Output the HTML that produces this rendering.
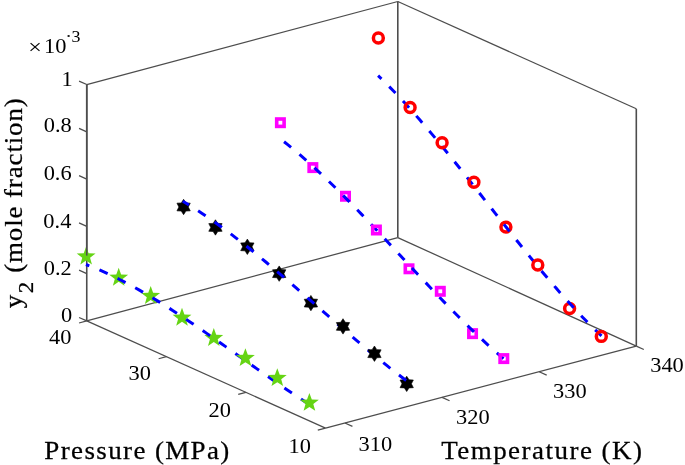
<!DOCTYPE html>
<html><head><meta charset="utf-8"><style>
html,body{margin:0;padding:0;background:#fff;overflow:hidden;}
svg{display:block;will-change:transform;}
</style></head><body>
<svg width="685" height="465" viewBox="0 0 685 465">
<rect width="685" height="465" fill="#fff"/>
<g stroke-linecap="butt">
<line x1="86.75" y1="84.55" x2="86.75" y2="320.90" stroke="#4d4d4d" stroke-width="1.6" />
<line x1="397.80" y1="1.50" x2="397.80" y2="237.60" stroke="#4d4d4d" stroke-width="1.6" />
<line x1="636.30" y1="108.80" x2="636.30" y2="346.10" stroke="#4d4d4d" stroke-width="1.6" />
<line x1="86.75" y1="84.55" x2="397.80" y2="1.50" stroke="#4d4d4d" stroke-width="1.25" />
<line x1="397.80" y1="1.50" x2="636.30" y2="108.80" stroke="#4d4d4d" stroke-width="1.25" />
<line x1="86.75" y1="320.90" x2="397.80" y2="237.60" stroke="#4d4d4d" stroke-width="1.25" />
<line x1="397.80" y1="237.60" x2="636.30" y2="346.10" stroke="#4d4d4d" stroke-width="1.25" />
<line x1="86.75" y1="320.90" x2="325.50" y2="428.10" stroke="#4d4d4d" stroke-width="1.25" />
<line x1="325.50" y1="428.10" x2="636.30" y2="346.10" stroke="#4d4d4d" stroke-width="1.25" />
<line x1="86.75" y1="320.90" x2="79.05" y2="317.45" stroke="#4d4d4d" stroke-width="1.25" />
<line x1="86.75" y1="273.63" x2="79.05" y2="270.18" stroke="#4d4d4d" stroke-width="1.25" />
<line x1="86.75" y1="226.36" x2="79.05" y2="222.91" stroke="#4d4d4d" stroke-width="1.25" />
<line x1="86.75" y1="179.09" x2="79.05" y2="175.64" stroke="#4d4d4d" stroke-width="1.25" />
<line x1="86.75" y1="131.82" x2="79.05" y2="128.37" stroke="#4d4d4d" stroke-width="1.25" />
<line x1="86.75" y1="84.55" x2="79.05" y2="81.10" stroke="#4d4d4d" stroke-width="1.25" />
<line x1="86.75" y1="320.90" x2="79.05" y2="323.00" stroke="#4d4d4d" stroke-width="1.25" />
<line x1="166.33" y1="356.63" x2="158.63" y2="358.73" stroke="#4d4d4d" stroke-width="1.25" />
<line x1="245.92" y1="392.37" x2="238.22" y2="394.47" stroke="#4d4d4d" stroke-width="1.25" />
<line x1="325.50" y1="428.10" x2="317.80" y2="430.20" stroke="#4d4d4d" stroke-width="1.25" />
<line x1="344.93" y1="422.98" x2="352.43" y2="426.38" stroke="#4d4d4d" stroke-width="1.25" />
<line x1="442.05" y1="397.35" x2="449.55" y2="400.75" stroke="#4d4d4d" stroke-width="1.25" />
<line x1="539.17" y1="371.73" x2="546.67" y2="375.12" stroke="#4d4d4d" stroke-width="1.25" />
<line x1="636.30" y1="346.10" x2="643.80" y2="349.50" stroke="#4d4d4d" stroke-width="1.25" />
</g>
<polygon points="86.15,246.60 88.56,253.18 95.57,253.44 90.05,257.77 91.97,264.51 86.15,260.60 80.33,264.51 82.25,257.77 76.73,253.44 83.74,253.18" fill="#65d414"/><polygon points="118.70,267.80 121.11,274.38 128.12,274.64 122.60,278.97 124.52,285.71 118.70,281.80 112.88,285.71 114.80,278.97 109.28,274.64 116.29,274.38" fill="#65d414"/><polygon points="150.70,286.10 153.11,292.68 160.12,292.94 154.60,297.27 156.52,304.01 150.70,300.10 144.88,304.01 146.80,297.27 141.28,292.94 148.29,292.68" fill="#65d414"/><polygon points="182.00,307.80 184.41,314.38 191.42,314.64 185.90,318.97 187.82,325.71 182.00,321.80 176.18,325.71 178.10,318.97 172.58,314.64 179.59,314.38" fill="#65d414"/><polygon points="213.80,328.10 216.21,334.68 223.22,334.94 217.70,339.27 219.62,346.01 213.80,342.10 207.98,346.01 209.90,339.27 204.38,334.94 211.39,334.68" fill="#65d414"/>
<polyline points="86.0,264.49 89.78,265.96 93.57,267.49 97.35,269.07 101.14,270.71 104.92,272.41 108.71,274.16 112.49,275.96 116.28,277.82 120.06,279.72 123.85,281.67 127.63,283.67 131.42,285.71 135.2,287.79 138.99,289.92 142.77,292.08 146.56,294.29 150.34,296.53 154.13,298.81 157.91,301.12 161.69,303.46 165.48,305.84 169.26,308.25 173.05,310.68 176.83,313.14 180.62,315.63 184.4,318.14 188.19,320.67 191.97,323.22 195.76,325.79 199.54,328.38 203.33,330.99 207.11,333.61 210.9,336.25 214.68,338.89 218.47,341.55 222.25,344.21 226.04,346.89 229.82,349.56 233.61,352.25 237.39,354.93 241.17,357.62 244.96,360.31 248.74,362.99 252.53,365.67 256.31,368.35 260.1,371.02 263.88,373.68 267.67,376.34 271.45,378.98 275.24,381.61 279.02,384.23 282.81,386.83 286.59,389.42 290.38,391.99 294.16,394.54 297.95,397.06 301.73,399.57 305.52,402.05 309.3,404.5" fill="none" stroke="#0000ff" stroke-width="3.0" stroke-dasharray="9.0 10.980" stroke-dashoffset="5.454"/>
<polygon points="245.40,348.20 247.81,354.78 254.82,355.04 249.30,359.37 251.22,366.11 245.40,362.20 239.58,366.11 241.50,359.37 235.98,355.04 242.99,354.78" fill="#65d414"/><polygon points="277.30,368.20 279.71,374.78 286.72,375.04 281.20,379.37 283.12,386.11 277.30,382.20 271.48,386.11 273.40,379.37 267.88,375.04 274.89,374.78" fill="#65d414"/><polygon points="309.40,392.90 311.81,399.48 318.82,399.74 313.30,404.07 315.22,410.81 309.40,406.90 303.58,410.81 305.50,404.07 299.98,399.74 306.99,399.48" fill="#65d414"/>
<line x1="86.75" y1="84.55" x2="86.75" y2="255.60" stroke="#4d4d4d" stroke-width="1.6" />
<polygon points="183.60,199.30 185.95,202.93 190.27,203.15 188.30,207.00 190.27,210.85 185.95,211.07 183.60,214.70 181.25,211.07 176.93,210.85 178.90,207.00 176.93,203.15 181.25,202.93" fill="#000" stroke="#000" stroke-width="0.6" stroke-linejoin="round"/><polygon points="215.45,219.75 217.80,223.38 222.12,223.60 220.15,227.45 222.12,231.30 217.80,231.52 215.45,235.15 213.10,231.52 208.78,231.30 210.75,227.45 208.78,223.60 213.10,223.38" fill="#000" stroke="#000" stroke-width="0.6" stroke-linejoin="round"/><polygon points="247.35,239.10 249.70,242.73 254.02,242.95 252.05,246.80 254.02,250.65 249.70,250.87 247.35,254.50 245.00,250.87 240.68,250.65 242.65,246.80 240.68,242.95 245.00,242.73" fill="#000" stroke="#000" stroke-width="0.6" stroke-linejoin="round"/><polygon points="279.20,265.95 281.55,269.58 285.87,269.80 283.90,273.65 285.87,277.50 281.55,277.72 279.20,281.35 276.85,277.72 272.53,277.50 274.50,273.65 272.53,269.80 276.85,269.58" fill="#000" stroke="#000" stroke-width="0.6" stroke-linejoin="round"/><polygon points="310.90,295.40 313.25,299.03 317.57,299.25 315.60,303.10 317.57,306.95 313.25,307.17 310.90,310.80 308.55,307.17 304.23,306.95 306.20,303.10 304.23,299.25 308.55,299.03" fill="#000" stroke="#000" stroke-width="0.6" stroke-linejoin="round"/><polygon points="406.70,376.15 409.05,379.78 413.37,380.00 411.40,383.85 413.37,387.70 409.05,387.92 406.70,391.55 404.35,387.92 400.03,387.70 402.00,383.85 400.03,380.00 404.35,379.78" fill="#000" stroke="#000" stroke-width="0.6" stroke-linejoin="round"/>
<polyline points="182.8,201.3 186.59,203.56 190.38,205.89 194.16,208.28 197.95,210.72 201.74,213.21 205.53,215.76 209.32,218.36 213.11,221.0 216.89,223.7 220.68,226.44 224.47,229.22 228.26,232.05 232.05,234.91 235.83,237.82 239.62,240.76 243.41,243.74 247.2,246.75 250.99,249.79 254.77,252.87 258.56,255.97 262.35,259.1 266.14,262.25 269.93,265.43 273.72,268.62 277.5,271.84 281.29,275.08 285.08,278.33 288.87,281.59 292.66,284.87 296.44,288.16 300.23,291.46 304.02,294.77 307.81,298.08 311.6,301.4 315.38,304.72 319.17,308.04 322.96,311.36 326.75,314.67 330.54,317.99 334.33,321.29 338.11,324.59 341.9,327.88 345.69,331.15 349.48,334.42 353.27,337.67 357.05,340.9 360.84,344.11 364.63,347.31 368.42,350.48 372.21,353.63 375.99,356.75 379.78,359.85 383.57,362.92 387.36,365.95 391.15,368.96 394.94,371.93 398.72,374.87 402.51,377.77 406.3,380.63" fill="none" stroke="#0000ff" stroke-width="3.0" stroke-dasharray="9.0 10.969" stroke-dashoffset="1.908"/>
<polygon points="343.00,318.70 345.35,322.33 349.67,322.55 347.70,326.40 349.67,330.25 345.35,330.47 343.00,334.10 340.65,330.47 336.33,330.25 338.30,326.40 336.33,322.55 340.65,322.33" fill="#000" stroke="#000" stroke-width="0.6" stroke-linejoin="round"/><polygon points="374.45,346.00 376.80,349.63 381.12,349.85 379.15,353.70 381.12,357.55 376.80,357.77 374.45,361.40 372.10,357.77 367.78,357.55 369.75,353.70 367.78,349.85 372.10,349.63" fill="#000" stroke="#000" stroke-width="0.6" stroke-linejoin="round"/>
<rect x="276.70" y="119.00" width="7.4" height="7.4" fill="none" stroke="#ff00ff" stroke-width="3.6"/><rect x="309.15" y="163.90" width="7.4" height="7.4" fill="none" stroke="#ff00ff" stroke-width="3.6"/><rect x="341.80" y="192.55" width="7.4" height="7.4" fill="none" stroke="#ff00ff" stroke-width="3.6"/><rect x="405.30" y="265.10" width="7.4" height="7.4" fill="none" stroke="#ff00ff" stroke-width="3.6"/><rect x="468.85" y="329.95" width="7.4" height="7.4" fill="none" stroke="#ff00ff" stroke-width="3.6"/>
<polyline points="284.0,141.7 287.72,144.67 291.44,147.7 295.16,150.79 298.88,153.94 302.6,157.16 306.32,160.43 310.04,163.76 313.76,167.14 317.48,170.57 321.2,174.05 324.92,177.57 328.64,181.14 332.36,184.75 336.08,188.4 339.81,192.09 343.53,195.82 347.25,199.58 350.97,203.37 354.69,207.18 358.41,211.03 362.13,214.9 365.85,218.79 369.57,222.7 373.29,226.63 377.01,230.58 380.73,234.54 384.45,238.51 388.17,242.49 391.89,246.48 395.61,250.47 399.33,254.47 403.05,258.46 406.77,262.46 410.49,266.45 414.21,270.43 417.93,274.41 421.65,278.38 425.37,282.33 429.09,286.27 432.81,290.19 436.53,294.09 440.25,297.98 443.97,301.84 447.69,305.67 451.42,309.47 455.14,313.25 458.86,316.99 462.58,320.7 466.3,324.37 470.02,328.01 473.74,331.6 477.46,335.15 481.18,338.65 484.9,342.11 488.62,345.52 492.34,348.87 496.06,352.17 499.78,355.42 503.5,358.61" fill="none" stroke="#0000ff" stroke-width="3.0" stroke-dasharray="9.0 10.997" stroke-dashoffset="-0.068"/>
<rect x="372.70" y="226.30" width="7.4" height="7.4" fill="none" stroke="#ff00ff" stroke-width="3.6"/><rect x="436.60" y="287.60" width="7.4" height="7.4" fill="none" stroke="#ff00ff" stroke-width="3.6"/><rect x="500.10" y="354.90" width="7.4" height="7.4" fill="none" stroke="#ff00ff" stroke-width="3.6"/>
<circle cx="378.35" cy="38.00" r="4.95" fill="none" stroke="#ff0000" stroke-width="3.5"/><circle cx="505.90" cy="227.10" r="4.95" fill="none" stroke="#ff0000" stroke-width="3.5"/><circle cx="569.60" cy="308.50" r="4.95" fill="none" stroke="#ff0000" stroke-width="3.5"/>
<polyline points="378.1,75.68 381.89,79.33 385.67,83.07 389.46,86.88 393.25,90.76 397.03,94.72 400.82,98.75 404.61,102.85 408.39,107.01 412.18,111.22 415.96,115.5 419.75,119.83 423.54,124.22 427.32,128.65 431.11,133.13 434.9,137.65 438.68,142.22 442.47,146.82 446.26,151.46 450.04,156.12 453.83,160.82 457.62,165.54 461.4,170.29 465.19,175.06 468.97,179.84 472.76,184.64 476.55,189.45 480.33,194.27 484.12,199.09 487.91,203.92 491.69,208.75 495.48,213.57 499.27,218.39 503.05,223.21 506.84,228.01 510.63,232.79 514.41,237.56 518.2,242.31 521.98,247.03 525.77,251.73 529.56,256.4 533.34,261.04 537.13,265.65 540.92,270.22 544.7,274.74 548.49,279.23 552.28,283.67 556.06,288.05 559.85,292.39 563.64,296.67 567.42,300.9 571.21,305.06 574.99,309.17 578.78,313.2 582.57,317.17 586.35,321.06 590.14,324.88 593.93,328.62 597.71,332.28 601.5,335.86" fill="none" stroke="#0000ff" stroke-width="3.0" stroke-dasharray="9.0 10.931" stroke-dashoffset="4.336"/>
<circle cx="410.10" cy="107.50" r="4.95" fill="none" stroke="#ff0000" stroke-width="3.5"/><circle cx="442.10" cy="142.80" r="4.95" fill="none" stroke="#ff0000" stroke-width="3.5"/><circle cx="473.90" cy="182.20" r="4.95" fill="none" stroke="#ff0000" stroke-width="3.5"/><circle cx="537.80" cy="265.00" r="4.95" fill="none" stroke="#ff0000" stroke-width="3.5"/><circle cx="601.30" cy="336.40" r="4.95" fill="none" stroke="#ff0000" stroke-width="3.5"/>
<g fill="#000">
<text transform="translate(61.56,85.90) scale(1.12,1)" font-size="20" font-family="Liberation Serif, serif" >1</text>
<text transform="translate(43.75,132.45) scale(1.12,1)" font-size="20" font-family="Liberation Serif, serif" >0.8</text>
<text transform="translate(43.64,179.75) scale(1.12,1)" font-size="20" font-family="Liberation Serif, serif" >0.6</text>
<text transform="translate(43.37,227.55) scale(1.12,1)" font-size="20" font-family="Liberation Serif, serif" >0.4</text>
<text transform="translate(43.82,274.85) scale(1.12,1)" font-size="20" font-family="Liberation Serif, serif" >0.2</text>
<text transform="translate(61.00,321.90) scale(1.12,1)" font-size="20" font-family="Liberation Serif, serif" >0</text>
<text transform="translate(49.12,344.25) scale(1.12,1)" font-size="20" font-family="Liberation Serif, serif" >40</text>
<text transform="translate(128.54,380.30) scale(1.12,1)" font-size="20" font-family="Liberation Serif, serif" >30</text>
<text transform="translate(208.49,417.10) scale(1.12,1)" font-size="20" font-family="Liberation Serif, serif" >20</text>
<text transform="translate(288.54,453.05) scale(1.12,1)" font-size="20" font-family="Liberation Serif, serif" >10</text>
<text transform="translate(358.59,450.65) scale(1.12,1)" font-size="20" font-family="Liberation Serif, serif" >310</text>
<text transform="translate(456.04,424.10) scale(1.12,1)" font-size="20" font-family="Liberation Serif, serif" >320</text>
<text transform="translate(553.09,398.40) scale(1.12,1)" font-size="20" font-family="Liberation Serif, serif" >330</text>
<text transform="translate(650.19,371.70) scale(1.12,1)" font-size="20" font-family="Liberation Serif, serif" >340</text>
<text transform="translate(28.22,53.80) scale(1.2,1)" font-size="20" font-family="Liberation Serif, serif" >×</text>
<text transform="translate(44.04,52.50) scale(1.12,1)" font-size="20" font-family="Liberation Serif, serif" >10</text>
<rect x="67.6" y="35" width="2" height="2" fill="#222"/>
<text transform="translate(71.58,42.00) scale(1.1,1)" font-size="16.3" font-family="Liberation Serif, serif" >3</text>
<text transform="translate(44.29,459) scale(1.08,1)" font-size="25" letter-spacing="1.279" font-family="Liberation Serif, serif" stroke="#000" stroke-width="0.25">Pressure (MPa)</text>
<text transform="translate(441.16,459.2) scale(1.08,1)" font-size="25" letter-spacing="1.369" font-family="Liberation Serif, serif" stroke="#000" stroke-width="0.25">Temperature (K)</text>
<g transform="translate(22,307.9) rotate(-90)"><text transform="translate(-0.27,0) scale(1.08,1)" font-size="25" letter-spacing="0.000" font-family="Liberation Serif, serif" stroke="#000" stroke-width="0.25">y</text><text transform="translate(14.77,11) scale(1.08,1)" font-size="21.2" letter-spacing="0.000" font-family="Liberation Serif, serif" stroke="#000" stroke-width="0.25">2</text><text transform="translate(35.08,0) scale(1.08,1)" font-size="25" letter-spacing="0.797" font-family="Liberation Serif, serif" stroke="#000" stroke-width="0.25">(mole fraction)</text></g>
</g>
</svg>
</body></html>
